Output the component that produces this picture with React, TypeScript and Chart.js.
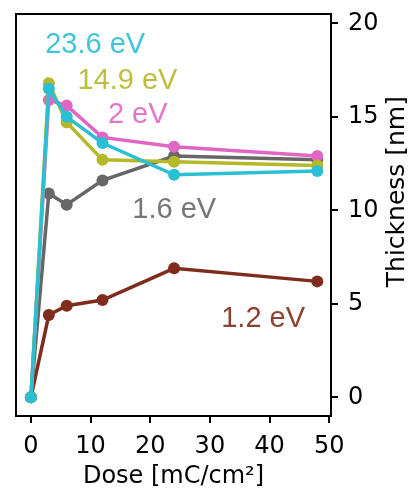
import React, { useEffect, useRef } from "react";
import { Chart, registerables } from "chart.js";

Chart.register(...registerables);

const doses = [0, 3, 6, 12, 24, 48];
const xTicks = [0, 10, 20, 30, 40, 50];
const yTicks = [0, 5, 10, 15, 20];

const thick_1_2 = [0, 4.4, 4.9, 5.2, 6.9, 6.2];
const thick_1_6 = [0, 10.9, 10.3, 11.6, 12.9, 12.7];
const thick_2 = [0, 15.9, 15.6, 13.9, 13.4, 12.9];
const thick_14_9 = [0, 16.8, 14.7, 12.7, 12.6, 12.4];
const thick_23_6 = [0, 16.5, 15.0, 13.6, 11.9, 12.1];

const seriesNames = ["1.2 eV", "1.6 eV", "2 eV", "14.9 eV", "23.6 eV"];
const seriesColors = ["#7e2d1d", "#676767", "#e066c4", "#b5b828", "#2bbfd3"];
// label anchor (data units: x of left edge, y of baseline)
const labelX = [31.9, 17.0, 12.9, 7.8, 2.4];
const labelY = [3.75, 9.6, 14.65, 16.5, 18.4];

const xTitle = "Dose [mC/cm²]";
const yTitle = "Thickness [nm]";

export default function App() {
  const ref = useRef<HTMLCanvasElement | null>(null);

  useEffect(() => {
    const canvas = ref.current;
    if (!canvas) return;
    const allSeries = [thick_1_2, thick_1_6, thick_2, thick_14_9, thick_23_6];

    const framePlugin = {
      id: "frame",
      afterDraw(chart: any) {
        const { ctx, chartArea } = chart;
        ctx.save();
        ctx.strokeStyle = "#000";
        ctx.lineWidth = 2;
        ctx.strokeRect(chartArea.left, chartArea.top, chartArea.right - chartArea.left, chartArea.bottom - chartArea.top);
        // y title, rotated to read bottom-to-top
        const ys = chart.scales.y;
        ctx.translate(chart.width - 15, ys.getPixelForValue(11));
        ctx.rotate(-Math.PI / 2);
        ctx.fillStyle = "#000";
        ctx.font = "25px 'DejaVu Sans'";
        ctx.textAlign = "center";
        ctx.textBaseline = "middle";
        ctx.fillText(yTitle, 0, 0);
        ctx.restore();
      },
    };

    const labelPlugin = {
      id: "seriesLabels",
      afterDatasetsDraw(chart: any) {
        const { ctx } = chart;
        const xs = chart.scales.x;
        const ys = chart.scales.y;
        ctx.save();
        ctx.font = "29px 'Liberation Sans'";
        ctx.textAlign = "left";
        ctx.textBaseline = "alphabetic";
        seriesNames.forEach((name, i) => {
          ctx.fillStyle = seriesColors[i];
          ctx.globalAlpha = 0.9;
          ctx.fillText(name, xs.getPixelForValue(labelX[i]), ys.getPixelForValue(labelY[i]));
        });
        ctx.restore();
      },
    };

    const chart = new Chart(canvas, {
      type: "line",
      data: {
        datasets: allSeries.map((vals, i) => ({
          label: seriesNames[i],
          data: doses.map((d, j) => ({ x: d, y: vals[j] })),
          borderColor: seriesColors[i],
          backgroundColor: seriesColors[i],
          pointBackgroundColor: seriesColors[i],
          pointBorderColor: seriesColors[i],
          pointRadius: 6,
          pointBorderWidth: 0,
          borderWidth: 3.5,
          tension: 0,
          order: allSeries.length - i,
        })),
      },
      options: {
        responsive: false,
        animation: false,
        layout: { padding: { left: 16, top: 14, right: 0, bottom: 0 } },
        plugins: { legend: { display: false }, tooltip: { enabled: false } },
        scales: {
          x: {
            type: "linear",
            position: "bottom",
            min: -2.5,
            max: 50.3,
            afterBuildTicks: (s: any) => {
              s.ticks = xTicks.map((v) => ({ value: v }));
            },
            afterFit: (s: any) => {
              s.height = 72;
              s.paddingLeft = 0;
              s.paddingRight = 0;
            },
            grid: { drawOnChartArea: false, drawTicks: true, tickLength: 7, color: "#000", lineWidth: 2 },
            border: { color: "#000", width: 2 },
            ticks: {
              color: "#000",
              font: { family: "'DejaVu Sans'", size: 24 },
              padding: 9,
              maxRotation: 0,
              autoSkip: false,
            },
            title: {
              display: true,
              text: xTitle,
              color: "#000",
              font: { family: "'DejaVu Sans'", size: 24 },
              padding: { top: 0, bottom: -3 },
            },
          },
          y: {
            type: "linear",
            position: "right",
            min: -1.0,
            max: 20.5,
            afterBuildTicks: (s: any) => {
              s.ticks = yTicks.map((v) => ({ value: v }));
            },
            afterFit: (s: any) => {
              s.width = 81;
              s.paddingTop = 0;
              s.paddingBottom = 0;
            },
            grid: { drawOnChartArea: false, drawTicks: true, tickLength: 7, color: "#000", lineWidth: 2 },
            border: { color: "#000", width: 2 },
            ticks: {
              color: "#000",
              font: { family: "'DejaVu Sans'", size: 24 },
              padding: 10,
              autoSkip: false,
            },
          },
        },
      },
      plugins: [framePlugin, labelPlugin],
    } as any);

    return () => chart.destroy();
  }, []);

  return (
    <div style={{ position: "fixed", left: 0, top: 0, width: 412, height: 488, background: "#fff" }}>
      <canvas ref={ref} width={412} height={488} />
    </div>
  );
}
